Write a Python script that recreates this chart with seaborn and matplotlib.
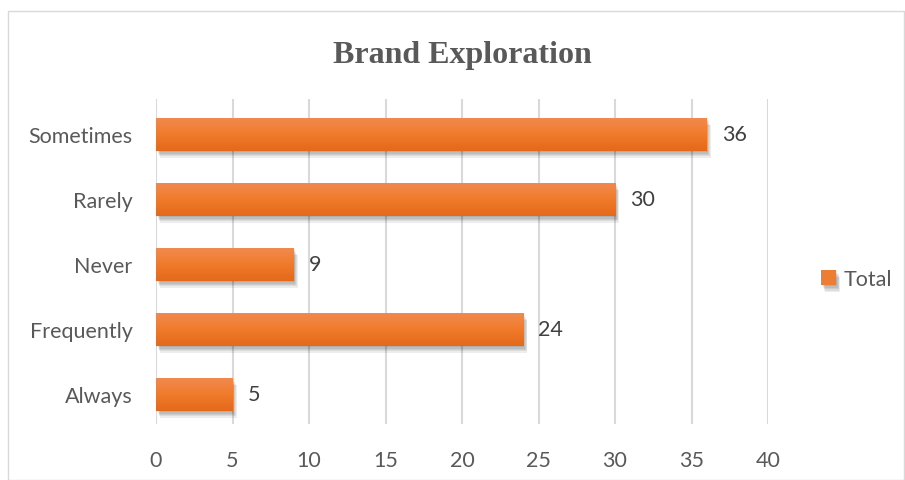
import matplotlib
matplotlib.use("Agg")
import matplotlib.pyplot as plt
import matplotlib.patheffects as pe
from matplotlib.patches import Rectangle
from matplotlib.colors import LinearSegmentedColormap
import numpy as np
import seaborn as sns
import pandas as pd

categories = ["Sometimes", "Rarely", "Never", "Frequently", "Always"]
values = [36, 30, 9, 24, 5]
xticks = [0, 5, 10, 15, 20, 25, 30, 35, 40]
title = "Brand Exploration"
series_name = "Total"

df = pd.DataFrame({"Category": categories, "Total": values})

sns.set_theme(style="white")
plt.rcParams['font.family'] = ['Lato', 'DejaVu Sans']

fig = plt.figure(figsize=(9.05, 4.81), dpi=100)
ax = fig.add_axes([156/905, 1-425/481, (768-156)/905, (425-100)/481])

fig.patches.append(Rectangle((8/905, 0), 1 - 9/905, 1 - 12/481, transform=fig.transFigure,
                             fill=False, edgecolor="#D9D9D9", linewidth=1.0))

orange = "#ED7D31"
sns.barplot(data=df, y="Category", x="Total", order=categories, orient="h",
            color=orange, saturation=1, width=0.5, ax=ax, label=series_name, zorder=3,
            linewidth=0, edgecolor="none")

cmap = LinearSegmentedColormap.from_list("og", ["#F18A4F", "#F07B2A", "#E4691B"])
grad = np.linspace(0, 1, 64).reshape(-1, 1)
shadow = [pe.SimplePatchShadow(offset=(o * 0.6, -o), shadow_rgbFace="#000000", alpha=0.07)
          for o in (1, 2, 3, 4, 5)]
for p in list(ax.patches):
    p.set_path_effects(shadow + [pe.Normal()])
    x0, y0 = p.get_x(), p.get_y()
    w, h = p.get_width(), p.get_height()
    im = ax.imshow(grad, cmap=cmap, aspect="auto", extent=(x0, x0 + w, y0 + h, y0),
                   zorder=3.5, interpolation="bilinear")
    im.set_clip_path(p)

for c in ax.containers:
    ax.bar_label(c, labels=[str(v) for v in values], padding=11, fontsize=15.5, color="#404040")

ax.set_xlim(0, 40)
ax.set_xticks(xticks)
ax.set_xticklabels([str(t) for t in xticks])
ax.set_ylim(4.454, -0.546)
ax.set_aspect("auto")
ax.xaxis.grid(True, color="#D9D9D9", linewidth=1.5, zorder=0)
ax.set_axisbelow(True)
for s in ax.spines.values():
    s.set_visible(False)
ax.tick_params(axis="both", length=0, labelsize=15.5, labelcolor="#595959")
ax.tick_params(axis="x", pad=19)
ax.tick_params(axis="y", pad=17)
ax.set_xlabel("")
ax.set_ylabel("")

fig.text(462/905, 1-55/481, title, ha="center", va="center", fontsize=23, fontweight="bold",
         family="Liberation Serif", color="#595959")

leg = ax.legend(loc="center left", bbox_to_anchor=(1.055, 0.446), frameon=False, fontsize=15.5,
                handlelength=0.7, handleheight=0.7, handletextpad=0.35)
for t in leg.get_texts():
    t.set_color("#595959")

fig.savefig("out.png", dpi=100)
